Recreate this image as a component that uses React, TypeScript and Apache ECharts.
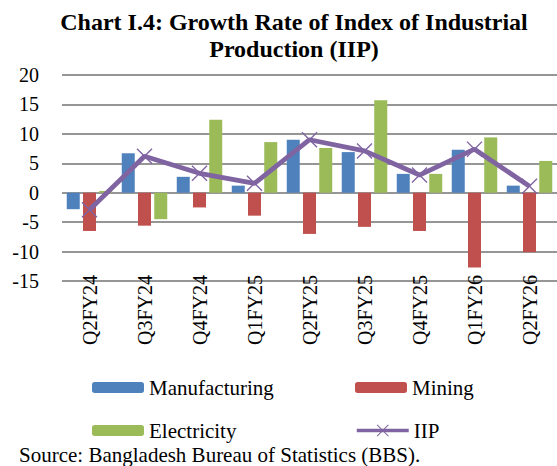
import React, { useEffect, useRef } from "react";
import * as echarts from "echarts";

const categories = ["Q2FY24", "Q3FY24", "Q4FY24", "Q1FY25", "Q2FY25", "Q3FY25", "Q4FY25", "Q1FY26", "Q2FY26"];
const manufacturing = [-2.8, 6.7, 2.7, 1.2, 9.0, 6.9, 3.2, 7.3, 1.2];
const mining = [-6.5, -5.6, -2.5, -3.9, -7.0, -5.8, -6.5, -12.7, -10.1];
const electricity = [0.3, -4.5, 12.4, 8.6, 7.6, 15.7, 3.2, 9.4, 5.4];
const iip = [-2.9, 6.2, 3.3, 1.6, 9.0, 7.1, 3.0, 7.4, 1.1];
const yTicks = { min: -15, max: 20, interval: 5 };

const FONT = "'Liberation Serif', 'Times New Roman', serif";
const X_SYMBOL =
  "path://M0,1.2 L1.2,0 L10,8.8 L18.8,0 L20,1.2 L11.2,10 L20,18.8 L18.8,20 L10,11.2 L1.2,20 L0,18.8 L8.8,10 Z";

export default function App() {
  const ref = useRef<HTMLDivElement>(null);
  useEffect(() => {
    if (!ref.current) return;
    const chart = echarts.init(ref.current, null, { renderer: "svg" });
    const legendText = { fontFamily: FONT, fontSize: 21, color: "#000", lineHeight: 21 };
    chart.setOption({
      animation: false,
      backgroundColor: "#fff",
      title: {
        text: "Chart I.4: Growth Rate of Index of Industrial\nProduction (IIP)",
        left: 289,
        top: 3,
        textAlign: "center",
        textStyle: { fontFamily: FONT, fontSize: 24, fontWeight: "bold", color: "#000", lineHeight: 27 },
      },
      grid: { left: 62, top: 75, width: 504, height: 206, containLabel: false },
      legend: [
        {
          left: 87,
          top: 372,
          orient: "vertical",
          itemWidth: 52,
          itemHeight: 11,
          itemGap: 22,
          textStyle: legendText,
          data: ["Manufacturing", "Electricity"],
        },
        {
          left: 350,
          top: 372,
          orient: "vertical",
          itemWidth: 52,
          itemHeight: 11,
          textStyle: legendText,
          data: ["Mining"],
        },
        {
          left: 350,
          top: 415,
          orient: "vertical",
          itemWidth: 52,
          itemHeight: 15,
          textStyle: legendText,
          data: [{ name: "IIP", lineStyle: { width: 3.5 } }],
        },
      ],
      xAxis: {
        type: "category",
        data: categories,
        axisLine: { show: false, onZero: false },
        axisTick: { show: false },
        axisLabel: { rotate: 90, margin: -6, fontFamily: FONT, fontSize: 20, color: "#000", interval: 0 },
        splitLine: { show: false },
      },
      yAxis: {
        type: "value",
        min: yTicks.min,
        max: yTicks.max,
        interval: yTicks.interval,
        axisLine: { show: false },
        axisTick: { show: false },
        axisLabel: { margin: 23, fontFamily: FONT, fontSize: 20, color: "#000" },
        splitLine: { lineStyle: { color: "#969696", width: 1.8 } },
      },
      series: [
        {
          name: "Manufacturing",
          type: "bar",
          data: manufacturing,
          barWidth: 13,
          barGap: "25%",
          itemStyle: { color: "#4F81BD" },
        },
        {
          name: "Mining",
          type: "bar",
          data: mining,
          barWidth: 13,
          barGap: "25%",
          itemStyle: { color: "#C0504D" },
        },
        {
          name: "Electricity",
          type: "bar",
          data: electricity,
          barWidth: 13,
          barGap: "25%",
          itemStyle: { color: "#9BBB59" },
        },
        {
          name: "IIP",
          type: "line",
          data: iip,
          z: 5,
          symbol: X_SYMBOL,
          symbolSize: 16,
          lineStyle: { color: "#8064A2", width: 4.8 },
          itemStyle: { color: "#8064A2" },
        },
      ],
      graphic: [
        {
          type: "text",
          x: 19,
          y: 455,
          style: {
            text: "Source: Bangladesh Bureau of Statistics (BBS).",
            font: `21px ${FONT}`,
            lineHeight: 19,
            fill: "#000",
            verticalAlign: "middle",
          },
        },
      ],
    });
    return () => chart.dispose();
  }, []);
  return <div ref={ref} style={{ position: "fixed", left: 0, top: 0, width: 557, height: 466 }} />;
}
